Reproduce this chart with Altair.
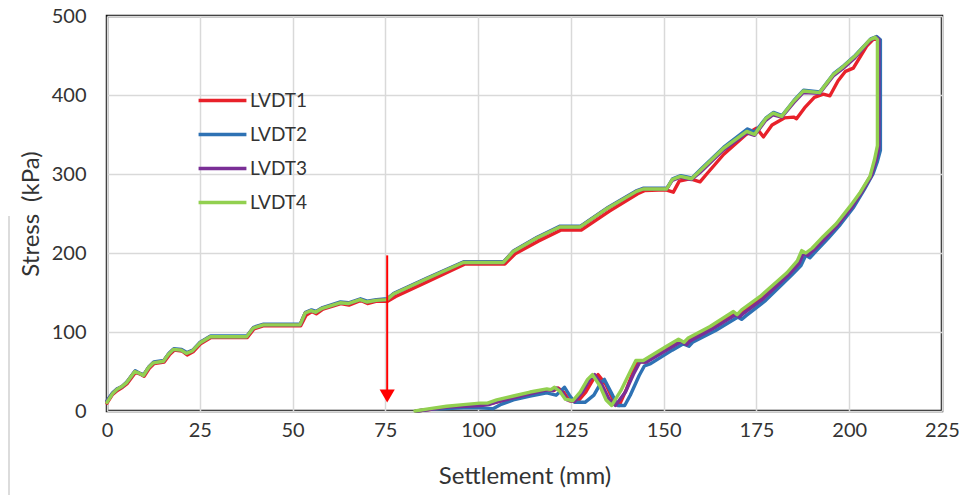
import altair as alt
import pandas as pd

# ---- data -----------------------------------------------------------------
SERIES = ["LVDT1", "LVDT2", "LVDT3", "LVDT4"]
COLORS = ["#e8212a", "#2e72b4", "#7a2f96", "#92d050"]

X_TICKS = [0, 25, 50, 75, 100, 125, 150, 175, 200, 225]
Y_TICKS = [0, 50, 100, 150, 200, 250, 300, 350, 400, 450, 500]

# (settlement mm, stress kPa) in recording order: loading, then unloading
LVDT1 = [
    (0, 10), (1.5, 21), (2.8, 26), (4.2, 30), (5.5, 35), (7.7, 49), (8.8, 47), (10.0, 44),
    (11.4, 54), (12.7, 60), (15.4, 62), (16.8, 71), (18.1, 77), (20.2, 76), (21.6, 71),
    (23.2, 75), (25.2, 85), (28.0, 93), (37.8, 93), (39.6, 104), (42.3, 108), (52.2, 108),
    (53.6, 121), (55.2, 126), (56.4, 123), (58.2, 129), (63.0, 136), (65.2, 134), (68.4, 140),
    (70.2, 136), (72.7, 139), (75.6, 139), (77.8, 145), (86.5, 164), (96.5, 186), (107.2, 186),
    (110.0, 199), (116.2, 215), (122.4, 229), (127.8, 229), (135.4, 253), (143.0, 275),
    (144.8, 279), (150.6, 280), (152.6, 277), (154.2, 291), (157.0, 294), (159.8, 290),
    (161.6, 300), (166.2, 325), (172.2, 350), (175.0, 358), (176.9, 347), (179.2, 362),
    (182.5, 371), (185.0, 372), (185.8, 370), (188.2, 385), (190.6, 397), (193.0, 401),
    (194.8, 399), (197.0, 418), (199.0, 430), (201.1, 434), (204.7, 462), (206.8, 472),
    (207.7, 470),
    (207.8, 334), (207.0, 317), (205.8, 298), (203.3, 278), (200.5, 258), (196.8, 236),
    (193.4, 219), (190.3, 204), (188.6, 198), (187.5, 201), (186.3, 188), (183.5, 174),
    (176.5, 143), (171.3, 125), (170.1, 120), (169.1, 123), (162.9, 105), (156.9, 90),
    (155.9, 85), (154.4, 89), (151.2, 80), (145.0, 62), (143.2, 63), (141.8, 50), (140.0, 28),
    (138.0, 7), (136.4, 14), (134.5, 33), (132.3, 46), (131.0, 40), (129.0, 24), (126.8, 12),
    (124.6, 13), (123.0, 24), (121.6, 29), (120.4, 26), (119.0, 27), (114.4, 22), (110.0, 17),
    (105.5, 12), (103.0, 9), (101.0, 8), (96.4, 6), (91.9, 5), (87.4, 2), (83.4, 0),
]

LVDT2 = [
    (0, 13), (1.5, 23), (2.7, 28), (4.1, 31), (5.4, 37), (7.6, 51), (8.7, 48), (9.9, 46),
    (11.3, 56), (12.6, 62), (15.3, 64), (16.7, 73), (18.0, 79), (20.1, 78), (21.5, 74),
    (23.1, 77), (25.1, 87), (27.9, 95), (37.7, 95), (39.5, 106), (42.2, 110), (52.1, 110),
    (53.5, 125), (55.1, 128), (56.3, 126), (58.1, 131), (62.9, 138), (65.1, 137), (68.3, 142),
    (70.1, 139), (72.6, 141), (75.5, 142), (77.3, 149), (86.1, 168), (96.1, 189), (106.9, 189),
    (109.6, 203), (115.9, 220), (122.1, 234), (127.6, 234), (135.1, 258), (142.8, 279),
    (144.6, 282), (150.9, 282), (152.4, 294), (154.6, 298), (157.6, 295), (160.0, 306),
    (166.2, 334), (172.6, 357), (174.6, 353), (177.6, 371), (179.6, 378), (181.9, 374),
    (185.1, 393), (187.7, 406), (192.1, 404), (195.8, 427), (198.5, 437), (201.6, 450),
    (205.8, 471), (207.4, 474), (208.4, 470),
    (208.4, 330), (207.6, 316), (206.4, 300), (204.0, 280), (201.2, 258), (197.6, 236),
    (194.2, 218), (191.0, 202), (189.4, 194), (188.3, 197), (187.0, 184), (184.5, 172),
    (177.5, 140), (172.3, 121), (171.0, 116), (170.0, 119), (164.0, 102), (157.8, 87),
    (156.8, 82), (155.3, 85), (152.3, 77), (146.5, 60), (144.8, 57), (143.4, 45), (141.0, 20),
    (139.5, 7), (137.6, 7), (136.0, 22), (134.0, 40), (133.0, 35), (131.2, 20), (128.8, 11),
    (126.0, 11), (124.6, 20), (123.3, 30), (122.2, 25), (121.0, 20), (118.5, 23), (114.0, 19),
    (109.5, 14), (106.0, 8), (104.0, 3), (100.5, 4), (96.0, 4), (91.5, 3), (87.0, 2), (83.5, 0),
]

LVDT3 = [
    (0, 12), (1.5, 22), (2.6, 27), (4.0, 31), (5.3, 36), (7.5, 50), (8.6, 48), (9.8, 45),
    (11.2, 55), (12.5, 61), (15.2, 63), (16.6, 72), (17.9, 78), (20.0, 77), (21.4, 73),
    (23.0, 76), (25.0, 86), (27.8, 94), (37.6, 94), (39.4, 105), (42.1, 109), (52.0, 109),
    (53.4, 124), (55.0, 127), (56.2, 125), (58.0, 130), (62.8, 137), (65.0, 136), (68.2, 141),
    (70.0, 138), (72.5, 140), (75.4, 141), (77.2, 148), (86.0, 167), (96.0, 188), (106.8, 188),
    (109.5, 202), (115.8, 219), (122.0, 233), (127.5, 233), (135.0, 257), (142.7, 278),
    (144.5, 281), (150.8, 281), (152.3, 292), (154.5, 296), (157.5, 293), (159.8, 302),
    (166.0, 330), (172.4, 352), (174.5, 349), (177.5, 368), (179.5, 375), (181.8, 372),
    (185.0, 390), (187.6, 403), (192.0, 402), (195.7, 424), (198.4, 434), (201.5, 447),
    (205.6, 469), (207.2, 473), (208.0, 470),
    (208.0, 333), (207.2, 317), (206.0, 298), (203.5, 278), (200.7, 258), (197.0, 236),
    (193.6, 219), (190.5, 204), (188.8, 197), (187.7, 200), (186.5, 187), (183.8, 173),
    (176.8, 142), (171.6, 124), (170.4, 119), (169.4, 122), (163.2, 104), (157.2, 89),
    (156.2, 84), (154.7, 88), (151.5, 79), (145.4, 62), (143.6, 62), (142.0, 48), (139.7, 24),
    (137.0, 7), (135.3, 15), (133.4, 33), (131.4, 46), (130.1, 40), (128.1, 24), (126.0, 12),
    (124.0, 14), (122.6, 24), (121.2, 29), (120.1, 26), (118.8, 27), (114.2, 22), (109.8, 17),
    (105.3, 12), (102.8, 8), (100.8, 7), (96.2, 6), (91.7, 5), (87.2, 2), (83.2, 0),
]

LVDT4 = [
    (0, 11), (1.5, 22), (2.6, 27), (4.0, 31), (5.3, 36), (7.5, 50), (8.6, 48), (9.8, 45),
    (11.2, 55), (12.5, 61), (15.2, 63), (16.6, 72), (17.9, 78), (20.0, 77), (21.4, 73),
    (23.0, 76), (25.0, 86), (27.8, 94), (37.6, 94), (39.4, 105), (42.1, 109), (52.0, 109),
    (53.4, 124), (55.0, 127), (56.2, 125), (58.0, 130), (62.8, 137), (65.0, 136), (68.2, 141),
    (70.0, 138), (72.5, 140), (75.4, 141), (77.2, 148), (86.0, 167), (96.0, 188), (106.8, 188),
    (109.5, 202), (115.8, 219), (122.0, 233), (127.5, 233), (135.0, 257), (142.7, 278),
    (144.5, 281), (150.8, 281), (152.3, 293), (154.5, 297), (157.5, 294), (159.8, 304),
    (166.0, 332), (172.4, 354), (174.5, 350), (177.5, 370), (179.5, 377), (181.8, 373),
    (185.0, 392), (187.6, 405), (192.0, 403), (195.7, 426), (198.4, 436), (201.5, 449),
    (205.6, 470), (207.0, 473), (207.6, 470),
    (207.6, 336), (206.8, 318), (205.6, 297), (203.0, 277), (200.2, 259), (196.5, 237),
    (193.0, 221), (190.0, 206), (188.3, 200), (187.2, 203), (186.0, 190), (183.2, 175),
    (176.0, 145), (171.0, 128), (169.8, 122), (168.8, 126), (162.5, 107), (156.5, 92),
    (155.5, 87), (154.0, 91), (150.8, 82), (144.5, 64), (142.5, 64), (141.0, 50), (138.5, 26),
    (136.0, 7), (134.5, 14), (132.8, 32), (130.8, 46), (129.5, 40), (127.5, 24), (125.5, 13),
    (123.5, 15), (122.0, 25), (120.6, 30), (119.6, 27), (118.5, 28), (114.0, 24), (109.5, 19),
    (105.0, 14), (102.5, 10), (100.5, 10), (96.0, 8), (91.5, 6), (87.0, 3), (83.0, 0),
]

# red marker arrow: settlement position, shaft top and arrow-head centre (kPa)
ARROW_X = 75.5
ARROW_TOP = 197
ARROW_HEAD = 19

FONT = "Lato"
TEXT = "#333333"

rows = []
for name, pts in zip(SERIES, [LVDT1, LVDT2, LVDT3, LVDT4]):
    for i, (sx, sy) in enumerate(pts):
        rows.append({"series": name, "seq": i, "settlement": sx, "stress": sy})
df = pd.DataFrame(rows)

x_enc = alt.X(
    "settlement:Q",
    scale=alt.Scale(domain=[0, 225], nice=False, zero=False),
    axis=alt.Axis(
        values=X_TICKS, title="Settlement (mm)", grid=True, domain=False,
        tickSize=0, labelPadding=9, titlePadding=24, labelFlush=False,
    ),
)
y_enc = alt.Y(
    "stress:Q",
    scale=alt.Scale(domain=[0, 500], nice=False),
    axis=alt.Axis(
        values=Y_TICKS, title="Stress\u2002(kPa)", grid=True, domain=False,
        tickSize=0, labelPadding=21, titlePadding=8, labelFlush=False,
    ),
)

lines = alt.Chart(df).mark_line(strokeWidth=3.4, strokeJoin="round", strokeCap="round").encode(
    x=x_enc,
    y=y_enc,
    color=alt.Color(
        "series:N",
        scale=alt.Scale(domain=SERIES, range=COLORS),
        legend=alt.Legend(
            title=None, orient="none", legendX=97, legendY=66,
            symbolType="M-1.45,0H1.45", symbolSize=1089, symbolStrokeWidth=3.5,
            labelFont=FONT, labelFontSize=19, labelColor=TEXT, labelOffset=9,
            rowPadding=5, padding=0,
        ),
    ),
    order=alt.Order("seq:Q"),
)

arrow_df = pd.DataFrame({"x": [ARROW_X], "top": [ARROW_TOP], "head": [ARROW_HEAD]})
shaft = alt.Chart(arrow_df).mark_rule(color="#ff0000", strokeWidth=2).encode(
    x="x:Q", y="top:Q", y2="head:Q"
)
head = alt.Chart(arrow_df).mark_point(
    shape="triangle-down", filled=True, color="#ff0000", size=230, opacity=1
).encode(x="x:Q", y="head:Q")

# faint outer frame edge on the left
frame = alt.Chart(pd.DataFrame({"k": [0]})).mark_rule(color="#d0d0d0", strokeWidth=1.5).encode(
    x=alt.value(-98), y=alt.value(200), y2=alt.value(480)
)

chart = (
    alt.layer(frame, lines, shaft, head)
    .properties(
        width=835, height=395,
        padding={"left": 107, "top": 16, "right": 17, "bottom": 84},
        autosize=alt.AutoSizeParams(type="none"),
        background="white",
    )
    .configure_view(stroke="#111111", strokeWidth=2.5)
    .configure_axis(
        gridColor="#d9d9d9", gridWidth=1.5,
        labelFont=FONT, labelFontSize=20, labelColor=TEXT,
        titleFont=FONT, titleFontSize=24, titleFontWeight="normal", titleColor=TEXT,
    )
)

chart.save("out.html", embed_options={"renderer": "svg", "actions": False})
